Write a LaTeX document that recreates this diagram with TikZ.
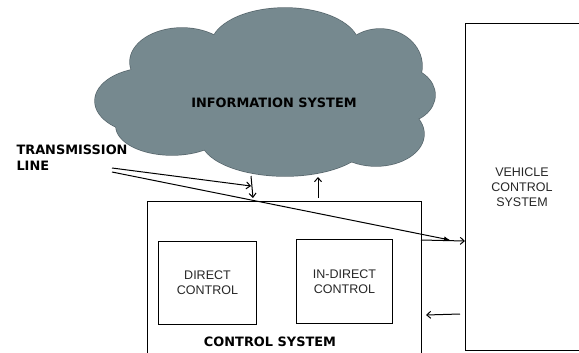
\documentclass[tikz,border=0pt]{standalone}
\usepackage{fontspec}
\setmainfont{Liberation Sans}
\newfontfamily\boldfam{DejaVu Sans}
\usetikzlibrary{arrows.meta}
\definecolor{cloudfill}{HTML}{76898F}
\definecolor{cloudline}{HTML}{56656B}
\tikzset{
  boxstyle/.style={draw=black, line width=1pt, rectangle, inner sep=0pt},
  lbl/.style={font=\fontsize{12.5}{15}\selectfont, align=center, text=black!85},
  blbl/.style={font=\boldfam\bfseries\fontsize{12.9}{16}\selectfont, align=left},
  conn/.style={line width=1pt, -{Straight Barb[length=4pt,width=7pt]}},
}
\begin{document}
\begin{tikzpicture}[x=1pt,y=-1pt]
\useasboundingbox (0,0) rectangle (579,353);
% cloud: outline pass then fill pass
\foreach \cx/\cy/\rx/\ry in {285/46/74/38, 182/62/52/34, 380/66/42/37, 150/101/55/33, 400/95/35/28, 172/126/56/29, 285/139/84/37, 376/134/48/32}{
  \draw[cloudline, line width=1.4pt] (\cx,\cy) ellipse [x radius=\rx, y radius=\ry];
}
\foreach \cx/\cy/\rx/\ry in {285/46/74/38, 182/62/52/34, 380/66/42/37, 150/101/55/33, 400/95/35/28, 172/126/56/29, 285/139/84/37, 376/134/48/32, 275/98/135/52}{
  \fill[cloudfill] (\cx,\cy) ellipse [x radius=\rx, y radius=\ry];
}
\node[blbl] (info) at (274,103) {INFORMATION SYSTEM};
% vehicle control system
\node[boxstyle, anchor=north west, minimum width=150pt, minimum height=327pt] (vcs) at (465,23) {};
\node[lbl] (vcslbl) at (522,187) {VEHICLE\\CONTROL\\SYSTEM};
% control system
\node[boxstyle, anchor=north west, minimum width=274pt, minimum height=180pt] (cs) at (147,201) {};
\node[blbl] (cslbl) at (270,342) {CONTROL SYSTEM};
\node[boxstyle, lbl, anchor=north west, minimum width=98pt, minimum height=83pt] (dc) at (158,241) {DIRECT\\CONTROL};
\node[boxstyle, lbl, anchor=north west, minimum width=96pt, minimum height=84pt] (idc) at (296,239) {IN-DIRECT\\CONTROL};
% transmission line
\node[blbl, anchor=north west] (tl) at (13,141) {TRANSMISSION\\LINE};
\coordinate (t1) at (112,168);
\coordinate (t2) at (112,172);
\coordinate (a1) at (251,186);
\coordinate (a2) at (450,240);
\coordinate (d1) at (251,176);
\coordinate (d2) at (253,198);
\coordinate (u1) at (318,198);
\coordinate (u2) at (318,177);
\coordinate (h1) at (421,240);
\coordinate (h2) at (465,241);
\coordinate (b1) at (460,314);
\coordinate (b2) at (426,315);
\draw[conn] (t1) -- (a1);
\draw[line width=1pt, -{Latex[length=6pt,width=5pt]}] (t2) -- (a2);
\draw[conn] (d1) -- (d2);
\draw[conn] (u1) -- (u2);
\draw[conn] (h1) -- (h2);
\draw[conn] (b1) -- (b2);
\end{tikzpicture}
\end{document}
